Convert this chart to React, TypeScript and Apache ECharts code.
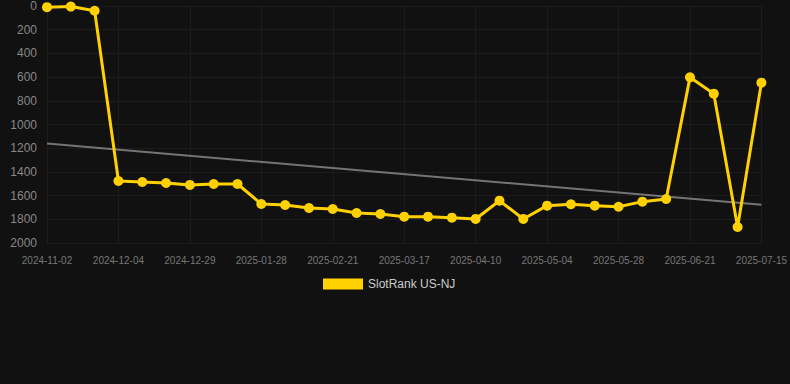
import React, { useEffect, useRef } from "react";
import * as echarts from "echarts";

const dates = [
  "2024-11-02", "2024-11-12", "2024-11-23", "2024-12-04", "2024-12-12", "2024-12-20",
  "2024-12-29", "2025-01-08", "2025-01-18", "2025-01-28", "2025-02-05", "2025-02-13",
  "2025-02-21", "2025-03-01", "2025-03-09", "2025-03-17", "2025-03-25", "2025-04-02",
  "2025-04-10", "2025-04-18", "2025-04-26", "2025-05-04", "2025-05-12", "2025-05-20",
  "2025-05-28", "2025-06-05", "2025-06-13", "2025-06-21", "2025-06-29", "2025-07-07",
  "2025-07-15",
];

const rankValues = [
  10, 5, 40, 1477, 1485, 1494, 1510, 1502, 1502, 1671, 1679, 1705, 1713, 1747, 1755,
  1778, 1778, 1786, 1797, 1643, 1797, 1685, 1673, 1685, 1694, 1651, 1629, 602, 740,
  1865, 647,
];

const trendStart = 1160;
const trendEnd = 1678;

const seriesName = "SlotRank US-NJ";

export default function App() {
  const ref = useRef<HTMLDivElement>(null);

  useEffect(() => {
    document.body.style.margin = "0";
    document.body.style.background = "#111111";
    if (!ref.current) return;
    const chart = echarts.init(ref.current, undefined, { renderer: "svg" });
    const trendData = dates.map((_, i) =>
      i === 0 ? trendStart : i === dates.length - 1 ? trendEnd : null
    );
    chart.setOption({
      animation: false,
      backgroundColor: "#111111",
      grid: { left: 47, right: 28, top: 6, bottom: 141, containLabel: false },
      legend: {
        data: [seriesName],
        top: 273,
        left: 318,
        icon: "rect",
        itemWidth: 40,
        itemHeight: 11,
        itemGap: 10,
        textStyle: { color: "#cccccc", fontSize: 12, fontFamily: "Arial, Liberation Sans, sans-serif" },
      },
      xAxis: {
        type: "category",
        data: dates,
        boundaryGap: false,
        axisLine: { show: false },
        axisTick: { show: false },
        axisLabel: {
          interval: 2,
          color: "#777777",
          fontSize: 10,
          margin: 12,
          fontFamily: "Arial, Liberation Sans, sans-serif",
        },
        splitLine: { show: true, interval: 2, lineStyle: { color: "#1c1c1c", width: 1 } },
      },
      yAxis: {
        type: "value",
        inverse: true,
        min: 0,
        max: 2000,
        interval: 200,
        axisLine: { show: false },
        axisTick: { show: false },
        axisLabel: {
          color: "#888888",
          fontSize: 12,
          margin: 10,
          fontFamily: "Arial, Liberation Sans, sans-serif",
          formatter: (v: number) => String(v),
        },
        splitLine: { show: true, lineStyle: { color: "#1c1c1c", width: 1 } },
      },
      series: [
        {
          name: "Trend",
          type: "line",
          data: trendData,
          connectNulls: true,
          symbol: "none",
          lineStyle: { color: "rgba(150,150,150,0.75)", width: 2 },
          silent: true,
          z: 1,
        },
        {
          name: seriesName,
          type: "line",
          data: rankValues,
          symbol: "circle",
          symbolSize: 10,
          itemStyle: { color: "#FFD100" },
          lineStyle: { color: "#FFD100", width: 3 },
          z: 2,
        },
      ],
    });
    return () => chart.dispose();
  }, []);

  return <div ref={ref} style={{ width: 790, height: 384 }} />;
}
